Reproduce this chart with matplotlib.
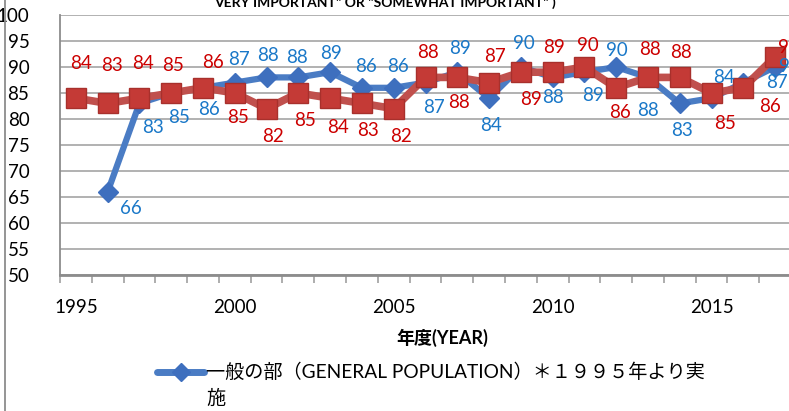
import numpy as np
import matplotlib
matplotlib.use('Agg')
import matplotlib.pyplot as plt
from matplotlib.lines import Line2D

plt.rcParams['font.family'] = ['Lato', 'Noto Sans CJK JP', 'DejaVu Sans']

# data
years = list(range(1995, 2018))
general = [np.nan, 66, 83, 85, 86, 87, 88, 88, 89, 86, 86, 87, 89, 84, 90,
           88, 89, 90, 88, 83, 84, 87, 90]
other = [84, 83, 84, 85, 86, 85, 82, 85, 84, 83, 82, 88, 88, 87, 89,
         89, 90, 86, 88, 88, 85, 86, 92]
xtick_years = [1995, 2000, 2005, 2010, 2015]
yticks = list(range(50, 101, 5))

# label offsets in pixels (dx, dy), dy positive = up
blue_off = [None, (23, -17), (14, -24), (8, -24), (6, -22), (4, 23), (1, 22),
            (-1, 20), (1, 19), (4, 21), (4, 21), (8, -25), (3, 24), (2, -27),
            (3, 24), (0, -20), (9, -23), (1, 17), (0, -33), (2, -27),
            (12, 21), (34, 0), (15, 1)]
red_off = [(5, 35), (4, 38), (4, 35), (2, 28), (10, 25), (3, -24), (6, -28),
           (7, -27), (8, -29), (6, -27), (7, -28), (2, 25), (2, -25), (6, 26),
           (10, -27), (1, 25), (3, 22), (4, -25), (2, 28), (1, 25),
           (14, -30), (27, -19), (14, 9)]

blue_line = '#4A7CC4'
blue_text = '#1A78C8'
red_line = '#C0504D'
red_text = '#CC0000'

fig = plt.figure(figsize=(7.89, 4.11), dpi=100)
ax = fig.add_axes([60/789, 1 - 275/411, 731/789, 260/411])

ax.plot(years, general, color=blue_line, lw=4.5, marker='D', ms=10,
        mfc='#3E6FBE', mec='#3E6FBE', zorder=3)
ax.plot(years, other, color=red_line, lw=5.5, marker='s', ms=15,
        mfc='#C43A36', mec='#A8302C', mew=1, zorder=4)

for x, v, off in zip(years, general, blue_off):
    if off is None or np.isnan(v):
        continue
    ax.annotate(str(v), (x, v), xytext=off, textcoords='offset pixels',
                ha='center', va='center', color=blue_text, fontsize=13.5,
                zorder=6, annotation_clip=False)
for x, v, off in zip(years, other, red_off):
    ax.annotate(str(v), (x, v), xytext=off, textcoords='offset pixels',
                ha='center', va='center', color=red_text, fontsize=13.5,
                zorder=6, annotation_clip=False)

ax.set_xlim(1994.5, 2017.5)
ax.set_ylim(50, 100)
ax.set_yticks(yticks)
ax.set_xticks(xtick_years)
ax.set_xticks(np.arange(1994.5, 2018, 1), minor=True)
ax.tick_params(axis='y', length=0, pad=22, labelsize=13.5)
ax.tick_params(axis='x', which='major', length=0, pad=17, labelsize=13.5)
ax.tick_params(axis='x', which='minor', length=6, width=1.2, color='#A0A0A0')
ax.grid(axis='y', color='#ABABAB', lw=1.3)
ax.set_axisbelow(True)
for s in ['top', 'right']:
    ax.spines[s].set_visible(False)
ax.spines['left'].set_color('#8C8C8C')
ax.spines['left'].set_linewidth(1.3)
ax.spines['bottom'].set_color('#8C8C8C')
ax.spines['bottom'].set_linewidth(2)

# title cut off at the top
fig.text(385/789, 1 - 3/411, 'VERY IMPORTANT" OR "SOMEWHAT IMPORTANT" )',
         ha='center', va='center', fontsize=10, fontweight='bold')

fig.text(442/789, 1 - 338/411, '年度(YEAR)', ha='center', va='center',
         fontsize=13, fontweight='bold')

# legend
ly = 1 - 372/411
fig.add_artist(Line2D([157/789, 204/789], [ly, ly], color=blue_line,
                      lw=5, solid_capstyle='round'))
fig.add_artist(Line2D([180.5/789], [ly], color='#3E6FBE',
                      marker='D', ms=9, lw=0))
fig.text(206/789, ly,
         '一般の部（GENERAL POPULATION）＊１９９５年より実',
         ha='left', va='center', fontsize=13.8)
fig.text(206/789, 1 - 398/411, '施', ha='left', va='center', fontsize=13.8)

# border on the left
fig.add_artist(Line2D([5/789, 5/789], [0, 1], color='#8C8C8C', lw=1.3))

fig.savefig('out.png', dpi=100)
